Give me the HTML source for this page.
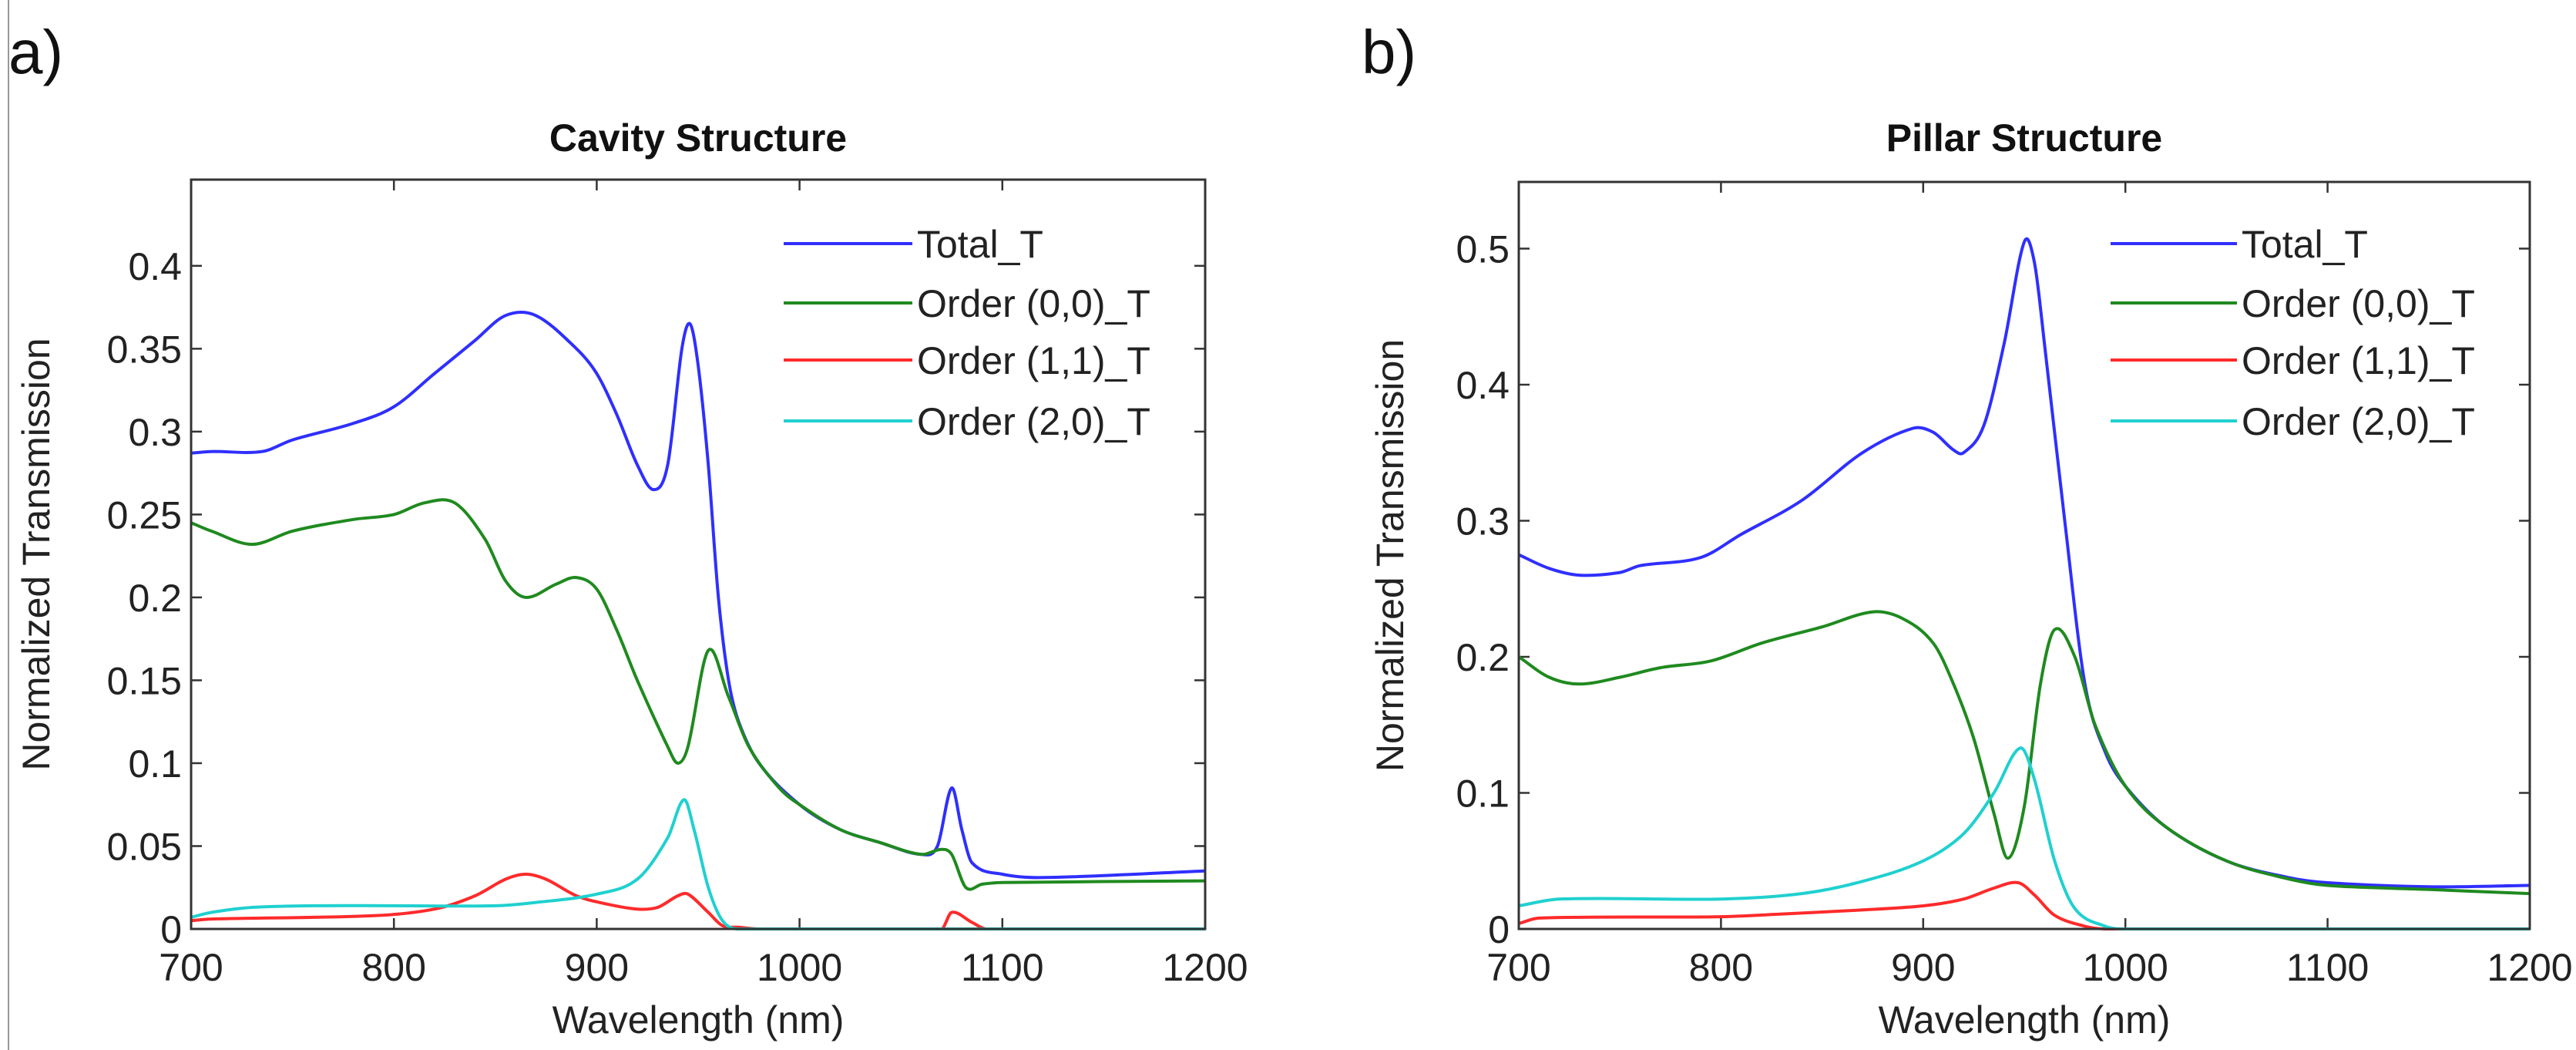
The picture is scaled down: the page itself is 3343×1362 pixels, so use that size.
<!DOCTYPE html>
<html><head><meta charset="utf-8"><style>
html,body{margin:0;padding:0;background:#fff;}
svg{display:block;font-family:"Liberation Sans",sans-serif;}
</style></head><body>
<svg id="fig" width="3343" height="1362" viewBox="0 0 3343 1362" xmlns="http://www.w3.org/2000/svg">
<line x1="11" y1="0" x2="11" y2="1362" stroke="#999" stroke-width="2"/>
</svg>
<script>
// ---- Panel a data (Cavity Structure) ----
const aTotalX=[700,710,735,750,780,800,820,840,855,870,890,900,910,920,928,935,942,946,950,955,960,965,970,980,1000,1020,1040,1060,1068,1075,1080,1085,1100,1120,1200];
const aTotalY=[0.287,0.288,0.288,0.295,0.305,0.315,0.335,0.355,0.37,0.37,0.35,0.335,0.31,0.28,0.265,0.28,0.35,0.365,0.34,0.28,0.2,0.15,0.125,0.1,0.075,0.06,0.052,0.045,0.05,0.085,0.06,0.04,0.033,0.031,0.035];
const aG00X=[700,710,730,750,780,800,815,830,845,855,865,880,890,900,910,920,935,940,945,955,965,975,990,1000,1020,1040,1060,1070,1075,1082,1090,1100,1200];
const aG00Y=[0.245,0.24,0.232,0.24,0.247,0.25,0.257,0.257,0.235,0.21,0.2,0.208,0.212,0.205,0.18,0.15,0.11,0.1,0.11,0.168,0.14,0.11,0.085,0.075,0.06,0.052,0.045,0.048,0.045,0.025,0.027,0.028,0.029];
const aR11X=[700,710,790,820,840,855,865,875,890,905,920,930,940,945,955,962,970,980,1070,1075,1085,1092,1200];
const aR11Y=[0.005,0.006,0.008,0.012,0.02,0.03,0.033,0.03,0.02,0.015,0.012,0.013,0.02,0.021,0.01,0.002,0.001,0,0,0.01,0.004,0,0];
const aC20X=[700,710,730,760,800,850,870,900,920,935,943,948,955,962,970,1200];
const aC20Y=[0.007,0.01,0.013,0.014,0.014,0.014,0.016,0.021,0.03,0.055,0.078,0.06,0.025,0.005,0,0];
const aTicksY=[0,0.05,0.1,0.15,0.2,0.25,0.3,0.35,0.4];
const aTickLabelsY=["0","0.05","0.1","0.15","0.2","0.25","0.3","0.35","0.4"];
// ---- Panel b data (Pillar Structure) ----
const bTotalX=[700,715,730,750,760,790,810,840,870,895,905,915,920,930,940,950,955,960,970,980,990,1000,1020,1050,1080,1100,1150,1200];
const bTotalY=[0.275,0.265,0.26,0.262,0.267,0.273,0.29,0.315,0.35,0.368,0.365,0.352,0.35,0.37,0.43,0.505,0.49,0.43,0.3,0.18,0.13,0.105,0.075,0.05,0.038,0.034,0.031,0.032];
const bG00X=[700,715,730,750,770,795,820,850,875,890,905,915,925,935,942,950,958,965,975,985,1000,1020,1050,1080,1100,1150,1200];
const bG00Y=[0.2,0.185,0.18,0.185,0.192,0.197,0.21,0.222,0.233,0.228,0.21,0.18,0.14,0.085,0.052,0.09,0.18,0.22,0.2,0.15,0.105,0.075,0.05,0.037,0.032,0.029,0.026];
const bR11X=[700,710,800,830,870,900,920,935,947,955,965,980,990,1200];
const bR11Y=[0.004,0.008,0.009,0.011,0.014,0.017,0.022,0.03,0.034,0.025,0.01,0.002,0,0];
const bC20X=[700,720,800,840,870,900,920,935,948,955,965,975,990,1000,1200];
const bC20Y=[0.017,0.022,0.022,0.026,0.035,0.05,0.07,0.1,0.133,0.11,0.05,0.015,0.002,0,0];
const bTicksY=[0,0.1,0.2,0.3,0.4,0.5];
const bTickLabelsY=["0","0.1","0.2","0.3","0.4","0.5"];
const ticksX=[700,800,900,1000,1100,1200];
const tickLabelsX=["700","800","900","1000","1100","1200"];
const legendLabels=["Total_T","Order (0,0)_T","Order (1,1)_T","Order (2,0)_T"];

const NS="http://www.w3.org/2000/svg";
const svg=document.getElementById('fig');
function mk(tag,attrs,parent,text){const e=document.createElementNS(NS,tag);for(const k in attrs)e.setAttribute(k,attrs[k]);if(text!==undefined)e.textContent=text;(parent||svg).appendChild(e);return e;}
function smoothPath(P,yMax){
  let d='M'+P[0][0].toFixed(1)+','+P[0][1].toFixed(1);
  for(let i=0;i<P.length-1;i++){
    const p0=P[i-1]||P[i],p1=P[i],p2=P[i+1],p3=P[i+2]||P[i+1];
    const h=p2[0]-p1[0];
    // tangents (slopes dy/dx) by finite differences
    const m1=(p2[1]-p0[1])/((p2[0]-p0[0])||1);
    const m2=(p3[1]-p1[1])/((p3[0]-p1[0])||1);
    let c1y=p1[1]+m1*h/3, c2y=p2[1]-m2*h/3;
    c1y=Math.min(c1y,yMax); c2y=Math.min(c2y,yMax);
    d+=' C'+(p1[0]+h/3).toFixed(1)+','+c1y.toFixed(1)+' '+(p2[0]-h/3).toFixed(1)+','+c2y.toFixed(1)+' '+p2[0].toFixed(1)+','+p2[1].toFixed(1);
  }
  return d;
}

function panel(cfg){
  const g=mk('g',{});
  
  
  const L=cfg.L,R=cfg.R,T=cfg.T,B=cfg.B;
  const sx=v=>L+(v-700)/(500)*(R-L);
  const sy=v=>B-v/cfg.ymax*(B-T);
  const lbl=mk('text',{x:cfg.lx,y:95,'font-size':80,fill:'#111'},g,cfg.letter);
  
  
  const t=mk('text',{x:(L+R)/2,y:196,'font-size':50,'font-weight':'bold','text-anchor':'middle',fill:'#111'},g,cfg.title);
  
  
  cfg.ticksY.forEach((v,i)=>{
    const y=sy(v);
    mk('line',{x1:L,y1:y,x2:L+14,y2:y,stroke:'#333','stroke-width':2.5},g);
    mk('line',{x1:R,y1:y,x2:R-14,y2:y,stroke:'#333','stroke-width':2.5},g);
    const tl=mk('text',{x:L-12,y:y+18,'font-size':50,'text-anchor':'end',fill:'#222'},g,cfg.tickLabelsY[i]);
    
    
  });
  ticksX.forEach((v,i)=>{
    const x=sx(v);
    mk('line',{x1:x,y1:B,x2:x,y2:B-14,stroke:'#333','stroke-width':2.5},g);
    mk('line',{x1:x,y1:T,x2:x,y2:T+14,stroke:'#333','stroke-width':2.5},g);
    const tl=mk('text',{x:x,y:1272,'font-size':50,'text-anchor':'middle',fill:'#222'},g,tickLabelsX[i]);
    
    
  });
  const xl=mk('text',{x:(L+R)/2,y:1340,'font-size':50,'text-anchor':'middle',fill:'#222'},g,'Wavelength (nm)');
  
  
  const yl=mk('text',{x:0,y:0,'font-size':50,'text-anchor':'middle',fill:'#222',transform:`translate(${cfg.ylx},${(T+B)/2}) rotate(-90)`},g,'Normalized Transmission');
  
  
  const colors=['#2f2fff','#1f8a1f','#ff2a2a','#20d0d0'];
  const names=['total-t','order-00-t','order-11-t','order-20-t'];
  cfg.series.forEach((s,k)=>{
    const P=s[0].map((x,i)=>[sx(x),sy(s[1][i])]);
    const p=mk('path',{d:smoothPath(P,B),fill:'none',stroke:colors[k],'stroke-width':4,'stroke-linejoin':'round'},g);
    
    
  });
  const fr=mk('rect',{x:L,y:T,width:R-L,height:B-T,fill:'none',stroke:'#333','stroke-width':3},g);
  
  
  const rows=[316,393,467,546];
  legendLabels.forEach((txt,k)=>{
    const lg=mk('g',{},g);
    
    
    mk('line',{x1:cfg.legX1,y1:rows[k],x2:cfg.legX2,y2:rows[k],stroke:colors[k],'stroke-width':4},lg);
    mk('text',{x:cfg.legX2+6,y:rows[k]+18,'font-size':50,fill:'#222'},lg,txt);
  });
}
panel({name:'panel-a-cavity',letter:'a)',lx:11,title:'Cavity Structure',L:248,R:1564,T:233,B:1205,ymax:0.452,ylx:64,
  ticksY:aTicksY,tickLabelsY:aTickLabelsY,legX1:1017,legX2:1184,
  series:[[aTotalX,aTotalY],[aG00X,aG00Y],[aR11X,aR11Y],[aC20X,aC20Y]]});
panel({name:'panel-b-pillar',letter:'b)',lx:1767,title:'Pillar Structure',L:1971,R:3283,T:236,B:1205,ymax:0.549,ylx:1821,
  ticksY:bTicksY,tickLabelsY:bTickLabelsY,legX1:2739,legX2:2903,
  series:[[bTotalX,bTotalY],[bG00X,bG00Y],[bR11X,bR11Y],[bC20X,bC20Y]]});
</script>
</body></html>
